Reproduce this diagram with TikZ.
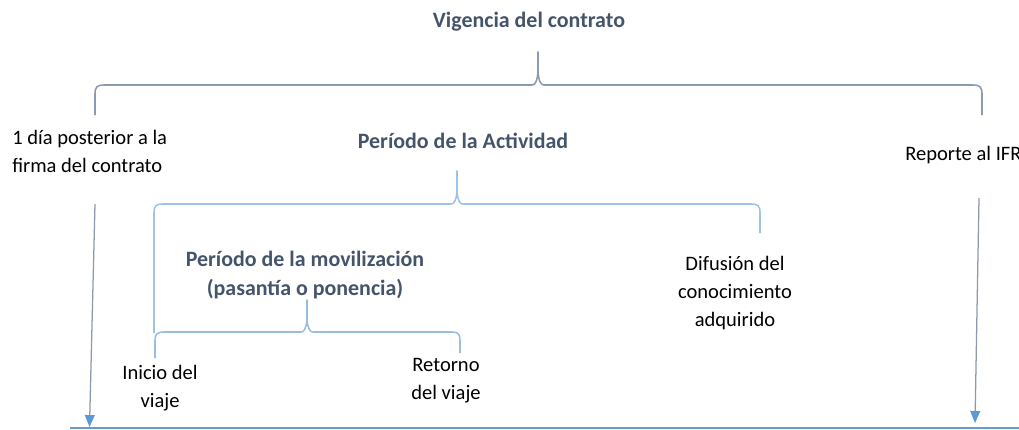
\documentclass[tikz,border=0pt]{standalone}
\usepackage{fontspec}
\setmainfont{Carlito}
\usepackage{xcolor}
\usetikzlibrary{arrows.meta}

\definecolor{titlegray}{HTML}{44546A}
\definecolor{bracegray}{HTML}{8A9BB0}
\definecolor{braceblue}{HTML}{9DC3E6}
\definecolor{arrowblue}{HTML}{5B9BD5}
\definecolor{shaftgray}{HTML}{8C9AAA}

\begin{document}
\begin{tikzpicture}[x=0.025cm,y=-0.025cm,
  ttl/.style={font=\bfseries\fontsize{15.6}{21}\selectfont,text=titlegray,align=center,inner sep=0pt},
  lbl/.style={font=\fontsize{14.6}{19.9}\selectfont,inner sep=0pt},
  brc/.style={line width=1.1pt,line join=round},
  tl/.style={draw=shaftgray,line width=0.9pt,-{Triangle[width=7pt,length=8.5pt,color=arrowblue]}}]
\useasboundingbox (0,0) rectangle (1019,429);
% titles
\node[ttl] (vig) at (529,22) {Vigencia del contrato};
\node[ttl] (act) at (463,141) {Per\'iodo de la Actividad};
\node[ttl] (mov) at (305,275) {Per\'iodo de la movilizaci\'on\\(pasant\'ia o ponencia)};
% labels
\node[lbl,anchor=west,align=left] (firma) at (12,151) {1 d\'ia posterior a la\\firma del contrato};
\node[lbl,anchor=west] (reporte) at (905,155) {Reporte al IFR};
\node[lbl,align=center] (inicio) at (160,388) {Inicio del\\viaje};
\node[lbl,align=center] (retorno) at (446,381) {Retorno\\del viaje};
\node[lbl,align=center] (difusion) at (735,293) {Difusi\'on del\\conocimiento\\adquirido};
% braces
\draw[brc,bracegray] (95,115) -- (95,94) .. controls (95,87) and (97,85) .. (104,85) -- (532,85)
  .. controls (535,85) and (537,82) .. (538,72) -- (538,52) -- (538,72)
  .. controls (539,82) and (541,85) .. (544,85) -- (973,85) .. controls (980,85) and (982,87) .. (982,94) -- (982,115);
\draw[brc,braceblue] (154,333) -- (154,213) .. controls (154,206) and (156,204) .. (163,204) -- (451,204)
  .. controls (454,204) and (456,201) .. (457,192) -- (457,171) -- (457,192)
  .. controls (458,201) and (460,204) .. (463,204) -- (751,204) .. controls (758,204) and (760,206) .. (760,213) -- (760,233);
\draw[brc,braceblue!85!bracegray] (155,358) -- (155,341) .. controls (155,334) and (157,332) .. (164,332) -- (301,332)
  .. controls (304,332) and (306,329) .. (307,320) -- (307,300) -- (307,320)
  .. controls (308,329) and (310,332) .. (313,332) -- (452,332) .. controls (458,332) and (460,334) .. (460,341) -- (460,353);
% time axis
\coordinate (axisL) at (70,427.8);
\coordinate (axisR) at (1019,427.8);
\draw[arrowblue!80!shaftgray,line width=1.4pt] (axisL) -- (axisR);
\coordinate (startA) at (95,204);
\coordinate (endA) at (89.5,427);
\coordinate (startB) at (979,198);
\coordinate (endB) at (975,423);
\draw[tl] (startA) -- (endA);
\draw[tl] (startB) -- (endB);
\end{tikzpicture}
\end{document}
